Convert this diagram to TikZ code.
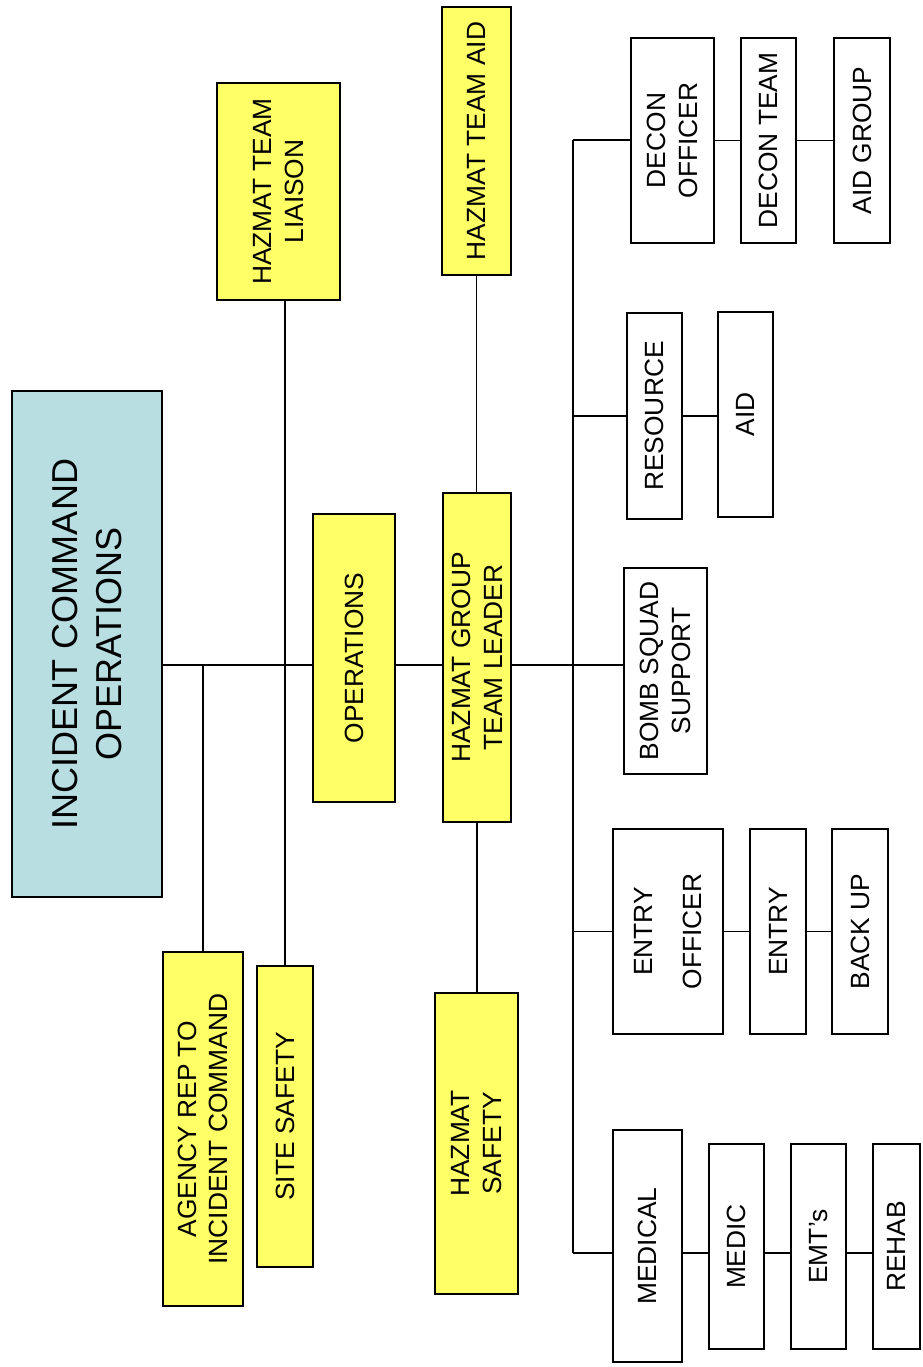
\documentclass[tikz,border=0pt]{standalone}
\usepackage{fontspec}
\setmainfont{Liberation Sans}
\usetikzlibrary{positioning, calc}
\definecolor{cmdblue}{RGB}{184,222,226}
\definecolor{hazyellow}{RGB}{255,255,102}

\begin{document}
\begin{tikzpicture}[
  x=0.02cm, y=-0.02cm,
  every node/.style={font=\fontsize{15}{18}\selectfont},
  box/.style={draw, line width=0.9pt, rotate=90, inner sep=0pt, align=center},
  boxsize/.style 2 args={minimum width=#1*0.02cm, minimum height=#2*0.02cm},
  hz/.style={box, fill=hazyellow},
  unit/.style={box, fill=white},
  conn/.style={line width=0.9pt},
]
  \useasboundingbox (0,0) rectangle (923,1367);

  % Command level (rotated chart, text reads upwards)
  \node[box, fill=cmdblue, boxsize={506}{150}, font=\fontsize{20.5}{24.6}\selectfont]
    (ico) at (87,644) {INCIDENT COMMAND\\OPERATIONS};
  \node[hz, boxsize={354}{80}] (agency) at (203,1129) {AGENCY REP TO\\INCIDENT COMMAND};
  \node[hz, boxsize={301}{56}] (site) at (285,1116.5) {SITE SAFETY};
  \node[hz, boxsize={217}{123}] (liaison) at (278.5,191.5) {HAZMAT TEAM\\LIAISON};
  \node[hz, boxsize={288}{82}] (ops) at (354,658) {OPERATIONS};

  % Hazmat group
  \node[hz, boxsize={329}{68}] (leader) at (477,657.5) {HAZMAT GROUP\\TEAM LEADER};
  \node[hz, boxsize={268}{69}] (teamaid) at (476.5,141) {HAZMAT TEAM AID};
  \node[hz, boxsize={301}{83}] (hzsafety) at (476.5,1143.5) {HAZMAT\\SAFETY};

  % Units under the team leader
  \node[unit, boxsize={205}{83}] (decon) at (672.5,140.5) {DECON\\OFFICER};
  \node[unit, boxsize={205}{55}] (deconteam) at (768.5,140.5) {DECON TEAM};
  \node[unit, boxsize={205}{56}] (aidgroup) at (862,140.5) {AID GROUP};
  \node[unit, boxsize={206}{55}] (resource) at (654.5,416) {RESOURCE};
  \node[unit, boxsize={205}{55}] (aid) at (745.5,414.5) {AID};
  \node[unit, boxsize={206}{83}] (bomb) at (665.5,671) {BOMB SQUAD\\SUPPORT};
  \node[unit, boxsize={205}{110}] (entryoff) at (668,931.5) {ENTRY\\[10pt]OFFICER};
  \node[unit, boxsize={205}{56}] (entry) at (778,931.5) {ENTRY};
  \node[unit, boxsize={205}{56}] (backup) at (860,931.5) {BACK UP};
  \node[unit, boxsize={232}{69}] (medical) at (647.5,1246) {MEDICAL};
  \node[unit, boxsize={205}{55}] (medic) at (736.5,1246.5) {MEDIC};
  \node[unit, boxsize={205}{55}] (emts) at (818.5,1246.5) {EMT's};
  \node[unit, boxsize={205}{47}] (rehab) at (896.5,1246.5) {REHAB};

  % Connectors
  \coordinate (spine) at (0,665);
  \coordinate (bustop) at (573,140);
  \coordinate (busbot) at (573,1253);

  \draw[conn] (ico.south |- spine) -- (ops.north |- spine);
  \draw[conn] (agency.east) -- (agency.east |- spine);
  \draw[conn] (site.east) -- (site.east |- liaison.west);
  \draw[conn] (ops.south |- spine) -- (leader.north |- spine);
  \draw[conn] (teamaid.west) -- (teamaid.west |- leader.east);
  \draw[conn] (leader.west) -- (leader.west |- hzsafety.east);
  \draw[conn] (leader.south |- spine) -- (bomb.north |- spine);
  \draw[conn] (bustop) -- (busbot);

  \draw[conn] (bustop) -- (decon.north |- bustop);
  \draw[conn] (decon.south) -- (deconteam.north);
  \draw[conn] (deconteam.south) -- (aidgroup.north);
  \draw[conn] (bustop |- resource.north) -- (resource.north);
  \draw[conn] (resource.south) -- (aid.north |- resource.south);
  \draw[conn] (bustop |- entryoff.north) -- (entryoff.north);
  \draw[conn] (entryoff.south) -- (entry.north);
  \draw[conn] (entry.south) -- (backup.north);
  \draw[conn] (busbot) -- (medical.north |- busbot);
  \draw[conn] (medical.south |- busbot) -- (medic.north |- busbot);
  \draw[conn] (medic.south |- busbot) -- (emts.north |- busbot);
  \draw[conn] (emts.south |- busbot) -- (rehab.north |- busbot);
\end{tikzpicture}
\end{document}
